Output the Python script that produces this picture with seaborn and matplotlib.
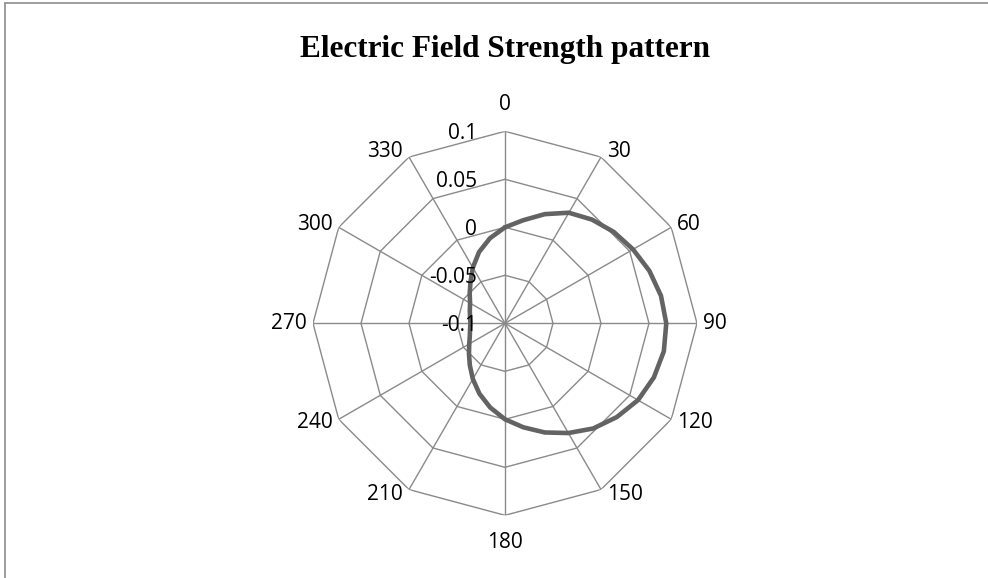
import numpy as np
import pandas as pd
import matplotlib
matplotlib.use("Agg")
import matplotlib.pyplot as plt
import seaborn as sns

# ---- data -------------------------------------------------------------
category_labels = ["0", "30", "60", "90", "120", "150", "180",
                   "210", "240", "270", "300", "330"]
category_angles = [0, 30, 60, 90, 120, 150, 180, 210, 240, 270, 300, 330]
radial_ticks = [-0.1, -0.05, 0, 0.05, 0.1]
radial_tick_labels = ["-0.1", "-0.05", "0", "0.05", "0.1"]

pattern_angles = [0, 10, 20, 30, 40, 50, 60, 70, 80, 90, 100, 110,
                  120, 130, 140, 150, 160, 170, 180, 190, 200, 210, 220, 230,
                  240, 250, 260, 270, 280, 290, 300, 310, 320, 330, 340, 350]
pattern_values = [0.000, 0.009, 0.021, 0.033, 0.041, 0.048, 0.054, 0.060,
                  0.065, 0.068, 0.068, 0.065, 0.060, 0.052, 0.043, 0.032,
                  0.021, 0.010, 0.000, -0.011, -0.022, -0.033, -0.043, -0.051,
                  -0.057, -0.061, -0.063, -0.064, -0.063, -0.061, -0.058,
                  -0.052, -0.044, -0.033, -0.021, -0.010]

title = "Electric Field Strength pattern"

# ---- style ------------------------------------------------------------
sns.set_theme(style="white")
plt.rcParams["font.family"] = ["Open Sans", "DejaVu Sans"]

W, H = 988, 578
fig = plt.figure(figsize=(W / 100, H / 100), dpi=100)
fig.patch.set_facecolor("white")

cx, cy, R = 505, 323.3, 192
ax = fig.add_axes([(cx - R) / W, (H - cy - R) / H, 2 * R / W, 2 * R / H],
                  projection="polar")
ax.set_theta_zero_location("N")
ax.set_theta_direction(-1)
ax.set_ylim(radial_ticks[0], radial_ticks[-1])
ax.set_facecolor("none")
ax.spines["polar"].set_visible(False)
ax.grid(False)
ax.set_xticks([])
ax.set_yticks([])

grid_color = "#8a8a8a"
cat_theta = np.deg2rad(category_angles + [category_angles[0]])
# polygon rings
for v in radial_ticks[1:]:
    ax.plot(cat_theta, [v] * len(cat_theta), color=grid_color, lw=1.0,
            zorder=1, solid_joinstyle="miter")
# spokes
for a in category_angles:
    ax.plot([np.deg2rad(a)] * 2, [radial_ticks[0], radial_ticks[-1]],
            color=grid_color, lw=1.0, zorder=1)

# data curve
theta = np.deg2rad(pattern_angles + [pattern_angles[0]])
vals = pattern_values + [pattern_values[0]]
df = pd.DataFrame({"theta": theta, "value": vals})
sns.lineplot(data=df, x="theta", y="value", sort=False, estimator=None,
             color="#636363", lw=3.3, ax=ax, zorder=3,
             solid_joinstyle="round", solid_capstyle="round")
ax.set_xlabel("")
ax.set_ylabel("")
ax.set_ylim(radial_ticks[0], radial_ticks[-1])

# category labels
lab_size = 15
for lab, a in zip(category_labels, category_angles):
    t = np.deg2rad(a)
    dx, dy = np.sin(t), np.cos(t)
    if abs(dx) < 0.01:
        off = (0, 27 * np.sign(dy))
        ha = "center"
    else:
        off = (6 * np.sign(dx), 6 * dy)
        ha = "left" if dx > 0 else "right"
    ax.annotate(lab, xy=(t, radial_ticks[-1]), xytext=off,
                textcoords="offset pixels", ha=ha, va="center",
                fontsize=lab_size, color="black", annotation_clip=False)

# radial labels
for lab, v in zip(radial_tick_labels, radial_ticks):
    ax.annotate(lab, xy=(0, v), xytext=(-28, -2), textcoords="offset pixels",
                ha="right", va="center", fontsize=lab_size, color="black",
                annotation_clip=False, zorder=4)

fig.text(505 / W, 1 - 50 / H, title, ha="center", va="center",
         family="Liberation Serif", weight="bold", fontsize=22.5, color="black")

# chart frame (left and top edges visible)
fig.add_artist(plt.Line2D([5 / W, 5 / W], [0, 1 - 3 / H], color="#8c8c8c",
                          lw=1.2, transform=fig.transFigure))
fig.add_artist(plt.Line2D([5 / W, 1], [1 - 3 / H, 1 - 3 / H], color="#8c8c8c",
                          lw=1.2, transform=fig.transFigure))

fig.savefig("out.png", dpi=100)
